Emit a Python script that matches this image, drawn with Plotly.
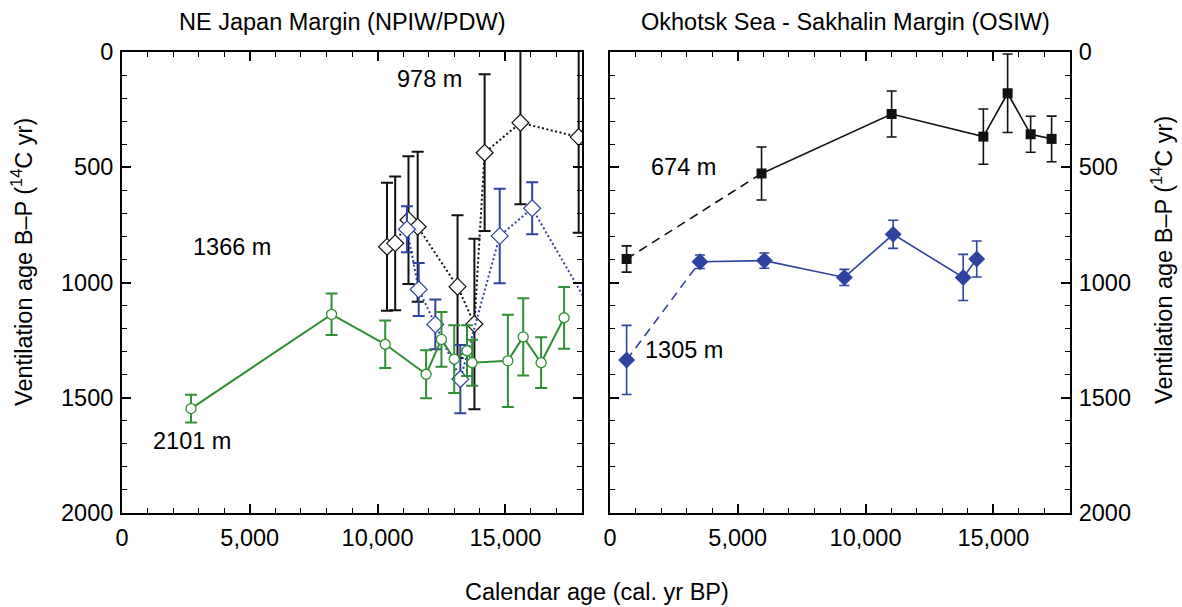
import plotly.graph_objects as go

# ---------------- data ----------------
# Left panel: NE Japan Margin
green_x = [2700, 8200, 10300, 11900, 12500, 13000, 13500, 13700, 15100, 15700, 16400, 17300]
green_y = [1547, 1138, 1268, 1398, 1247, 1332, 1296, 1348, 1340, 1236, 1348, 1153]
green_e = [60, 90, 103, 104, 119, 147, 110, 100, 200, 168, 110, 134]

black_l_x = [10370, 10690, 11210, 11570, 13130, 13790, 14190, 15590, 17870]
black_l_y = [845, 830, 729, 758, 1018, 1180, 437, 307, 369]
black_l_e = [278, 290, 277, 325, 310, 370, 340, 353, 415]

blue_l_x = [11150, 11610, 12260, 13240, 14780, 16050, 18600]
blue_l_y = [769, 1030, 1182, 1419, 798, 678, 1165]
blue_l_e = [100, 115, 108, 148, 205, 113, 120]

# Right panel: Okhotsk Sea - Sakhalin Margin
black_r_x = [650, 5930, 11020, 14610, 15560, 16460, 17280]
black_r_y = [898, 527, 269, 367, 179, 357, 377]
black_r_e = [57, 115, 100, 120, 170, 78, 99]

blue_r_x = [650, 3520, 6040, 9170, 11080, 13820, 14350]
blue_r_y = [1336, 910, 905, 978, 791, 978, 898]
blue_r_e = [150, 29, 33, 35, 61, 100, 78]

x_ticks = [0, 5000, 10000, 15000]
y_ticks = [0, 500, 1000, 1500, 2000]
x_range = [0, 18000]
y_range = [2000, 0]

# ---------------- style ----------------
W, H = 1182, 607
FONT = "Liberation Sans, Arial, Helvetica, sans-serif"
FS = 23.5
GREEN = "#2f8f34"
BLUE = "#2e43a0"
BLACK = "#111111"


def px(x):
    return x / W


def py(y):
    return 1 - y / H


fig = go.Figure()

# ---- left panel ----
fig.add_trace(go.Scatter(
    x=black_l_x, y=black_l_y, xaxis="x", yaxis="y", mode="lines+markers",
    line=dict(color=BLACK, width=2, dash="2px,2.5px"),
    marker=dict(symbol="diamond", size=13, color="white", line=dict(color=BLACK, width=1.2)),
    error_y=dict(type="data", array=black_l_e, color=BLACK, thickness=2, width=6),
))
fig.add_trace(go.Scatter(
    x=blue_l_x, y=blue_l_y, xaxis="x", yaxis="y", mode="lines+markers",
    line=dict(color=BLUE, width=2, dash="2px,2.5px"),
    marker=dict(symbol="diamond", size=13, color="white", line=dict(color=BLUE, width=1.2)),
    error_y=dict(type="data", array=blue_l_e, color=BLUE, thickness=2, width=6),
))
fig.add_trace(go.Scatter(
    x=green_x, y=green_y, xaxis="x", yaxis="y", mode="lines+markers",
    line=dict(color=GREEN, width=2),
    marker=dict(symbol="circle", size=10, color="white", line=dict(color=GREEN, width=1.3)),
    error_y=dict(type="data", array=green_e, color=GREEN, thickness=2, width=6),
))

# ---- right panel ----
for xs, ys, es, col, sym, size in [
    (black_r_x, black_r_y, black_r_e, BLACK, "square", 10),
    (blue_r_x, blue_r_y, blue_r_e, BLUE, "diamond", 13),
]:
    fig.add_trace(go.Scatter(
        x=xs[:2], y=ys[:2], xaxis="x2", yaxis="y2", mode="lines",
        line=dict(color=col, width=1.6, dash="9px,6px"),
    ))
    fig.add_trace(go.Scatter(
        x=xs[1:], y=ys[1:], xaxis="x2", yaxis="y2", mode="lines",
        line=dict(color=col, width=1.6),
    ))
    fig.add_trace(go.Scatter(
        x=xs, y=ys, xaxis="x2", yaxis="y2", mode="markers",
        marker=dict(symbol=sym, size=size, color=col, line=dict(width=0)),
        error_y=dict(type="data", array=es, color=col, thickness=1.6, width=5),
    ))

# invisible helper traces so the mirrored tick axes are drawn
for xa, ya in [("x3", "y"), ("x", "y3"), ("x4", "y2"), ("x2", "y4")]:
    fig.add_trace(go.Scatter(x=[None], y=[None], xaxis=xa, yaxis=ya, mode="markers",
                             marker=dict(opacity=0), hoverinfo="skip", showlegend=False))

tick_common = dict(
    ticks="inside", ticklen=9, tickwidth=1.5, tickcolor="black",
    showgrid=False, zeroline=False, automargin=False,
    tickfont=dict(family=FONT, size=FS, color="black"),
)
xminor = dict(dtick=1000, tick0=0, ticks="inside", ticklen=5, tickwidth=1.3, tickcolor="black", showgrid=False)
yminor = dict(dtick=100, tick0=0, ticks="inside", ticklen=5, tickwidth=1.3, tickcolor="black", showgrid=False)

xmain = dict(tick_common, showline=True, linewidth=2, linecolor="black", mirror=True,
             range=x_range, tickvals=x_ticks, tickformat=",d", minor=xminor, ticklabelstandoff=3)
ymain = dict(tick_common, showline=True, linewidth=2, linecolor="black", mirror=True,
             range=y_range, tickvals=y_ticks, tickformat="d", minor=yminor, ticklabelstandoff=2)
xmirror = dict(tick_common, showline=False, range=x_range, tickvals=x_ticks,
               minor=xminor, showticklabels=False, side="top")
ymirror = dict(tick_common, showline=False, range=y_range, tickvals=y_ticks,
               minor=yminor, showticklabels=False)

ydom = [py(513), py(52)]
fig.update_layout(
    width=W, height=H,
    margin=dict(l=0, r=0, t=0, b=0, autoexpand=False),
    paper_bgcolor="white", plot_bgcolor="white",
    showlegend=False,
    font=dict(family=FONT, size=FS, color="black"),
    xaxis=dict(xmain, domain=[px(122), px(582)], anchor="y"),
    yaxis=dict(ymain, domain=ydom, anchor="x", side="left"),
    xaxis2=dict(xmain, domain=[px(610), px(1070)], anchor="y2"),
    yaxis2=dict(ymain, domain=ydom, anchor="x2", side="right"),
    xaxis3=dict(xmirror, overlaying="x", anchor="y"),
    yaxis3=dict(ymirror, overlaying="y", anchor="x", side="right"),
    xaxis4=dict(xmirror, overlaying="x2", anchor="y2"),
    yaxis4=dict(ymirror, overlaying="y2", anchor="x2", side="left"),
)

annots = [
    ("NE Japan Margin (NPIW/PDW)", 342, 22, 0),
    ("Okhotsk Sea - Sakhalin Margin (OSIW)", 845, 22, 0),
    ("Calendar age (cal. yr BP)", 597, 592, 0),
    ("Ventilation age B–P (<sup>14</sup>C yr)", 22, 262, -90),
    ("Ventilation age B–P (<sup>14</sup>C yr)", 1162, 260, -90),
    ("978 m", 429, 79, 0),
    ("1366 m", 232, 247, 0),
    ("2101 m", 192, 441, 0),
    ("674 m", 683, 167, 0),
    ("1305 m", 684, 350, 0),
]
for text, x, y, ang in annots:
    fig.add_annotation(
        text=text, x=px(x), y=py(y), xref="paper", yref="paper",
        xanchor="center", yanchor="middle", showarrow=False, textangle=ang,
        font=dict(family=FONT, size=FS, color="black"),
    )

fig.write_html("out.html")
